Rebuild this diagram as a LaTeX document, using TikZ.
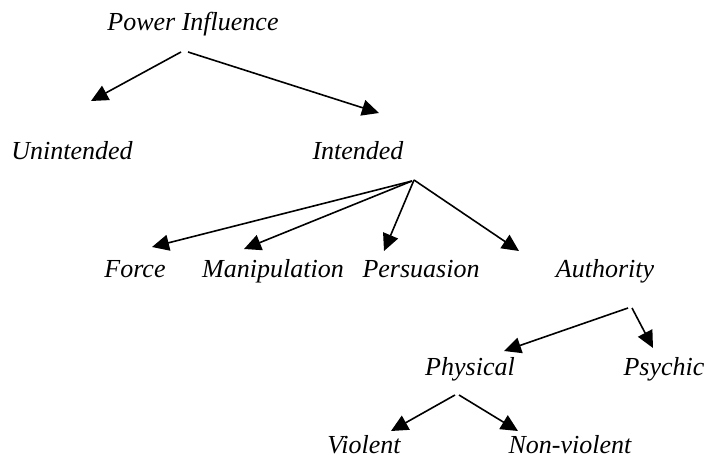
\documentclass[tikz,border=0pt]{standalone}
\usepackage{fontspec}
\setmainfont{Liberation Serif}
\usetikzlibrary{arrows.meta}
\begin{document}
\begin{tikzpicture}[x=1pt,y=-1pt,
  lbl/.style={anchor=base,inner sep=0pt,font=\fontsize{26}{30}\selectfont\itshape},
  arr/.style={line width=1.6pt,-{Triangle[length=17pt,width=16pt]}}]
\useasboundingbox (0,0) rectangle (706,460);
\node[lbl] (pi) at (193,31) {Power Influence};
\node[lbl] (un) at (72,159) {Unintended};
\node[lbl] (in) at (358,159) {Intended};
\node[lbl] (fo) at (135,277) {Force};
\node[lbl] (ma) at (273,277) {Manipulation};
\node[lbl] (pe) at (421,277) {Persuasion};
\node[lbl] (au) at (605,277) {Authority};
\node[lbl] (ph) at (470,375) {Physical};
\node[lbl] (ps) at (664,375) {Psychic};
\node[lbl] (vi) at (364,453.5) {Violent};
\node[lbl] (nv) at (570,453.5) {Non-violent};
% connector end points
\coordinate (pi1) at (181,52);
\coordinate (pi2) at (188,52);
\coordinate (unT) at (91,101);
\coordinate (inT) at (379,113);
\coordinate (in1) at (412,181);
\coordinate (in2) at (414,180);
\coordinate (foT) at (152,247);
\coordinate (maT) at (244,249);
\coordinate (peT) at (384,251);
\coordinate (auT) at (519,251);
\coordinate (au1) at (628,308);
\coordinate (au2) at (632,308);
\coordinate (phT) at (504,351);
\coordinate (psT) at (653,348);
\coordinate (ph1) at (455,395);
\coordinate (ph2) at (459,395);
\coordinate (viT) at (391,431);
\coordinate (nvT) at (518,431);
\draw[arr] (pi1) -- (unT);
\draw[arr] (pi2) -- (inT);
\draw[arr] (in1) -- (foT);
\draw[arr] (in1) -- (maT);
\draw[arr] (in2) -- (peT);
\draw[arr] (in2) -- (auT);
\draw[arr] (au1) -- (phT);
\draw[arr] (au2) -- (psT);
\draw[arr] (ph1) -- (viT);
\draw[arr] (ph2) -- (nvT);
\end{tikzpicture}
\end{document}
